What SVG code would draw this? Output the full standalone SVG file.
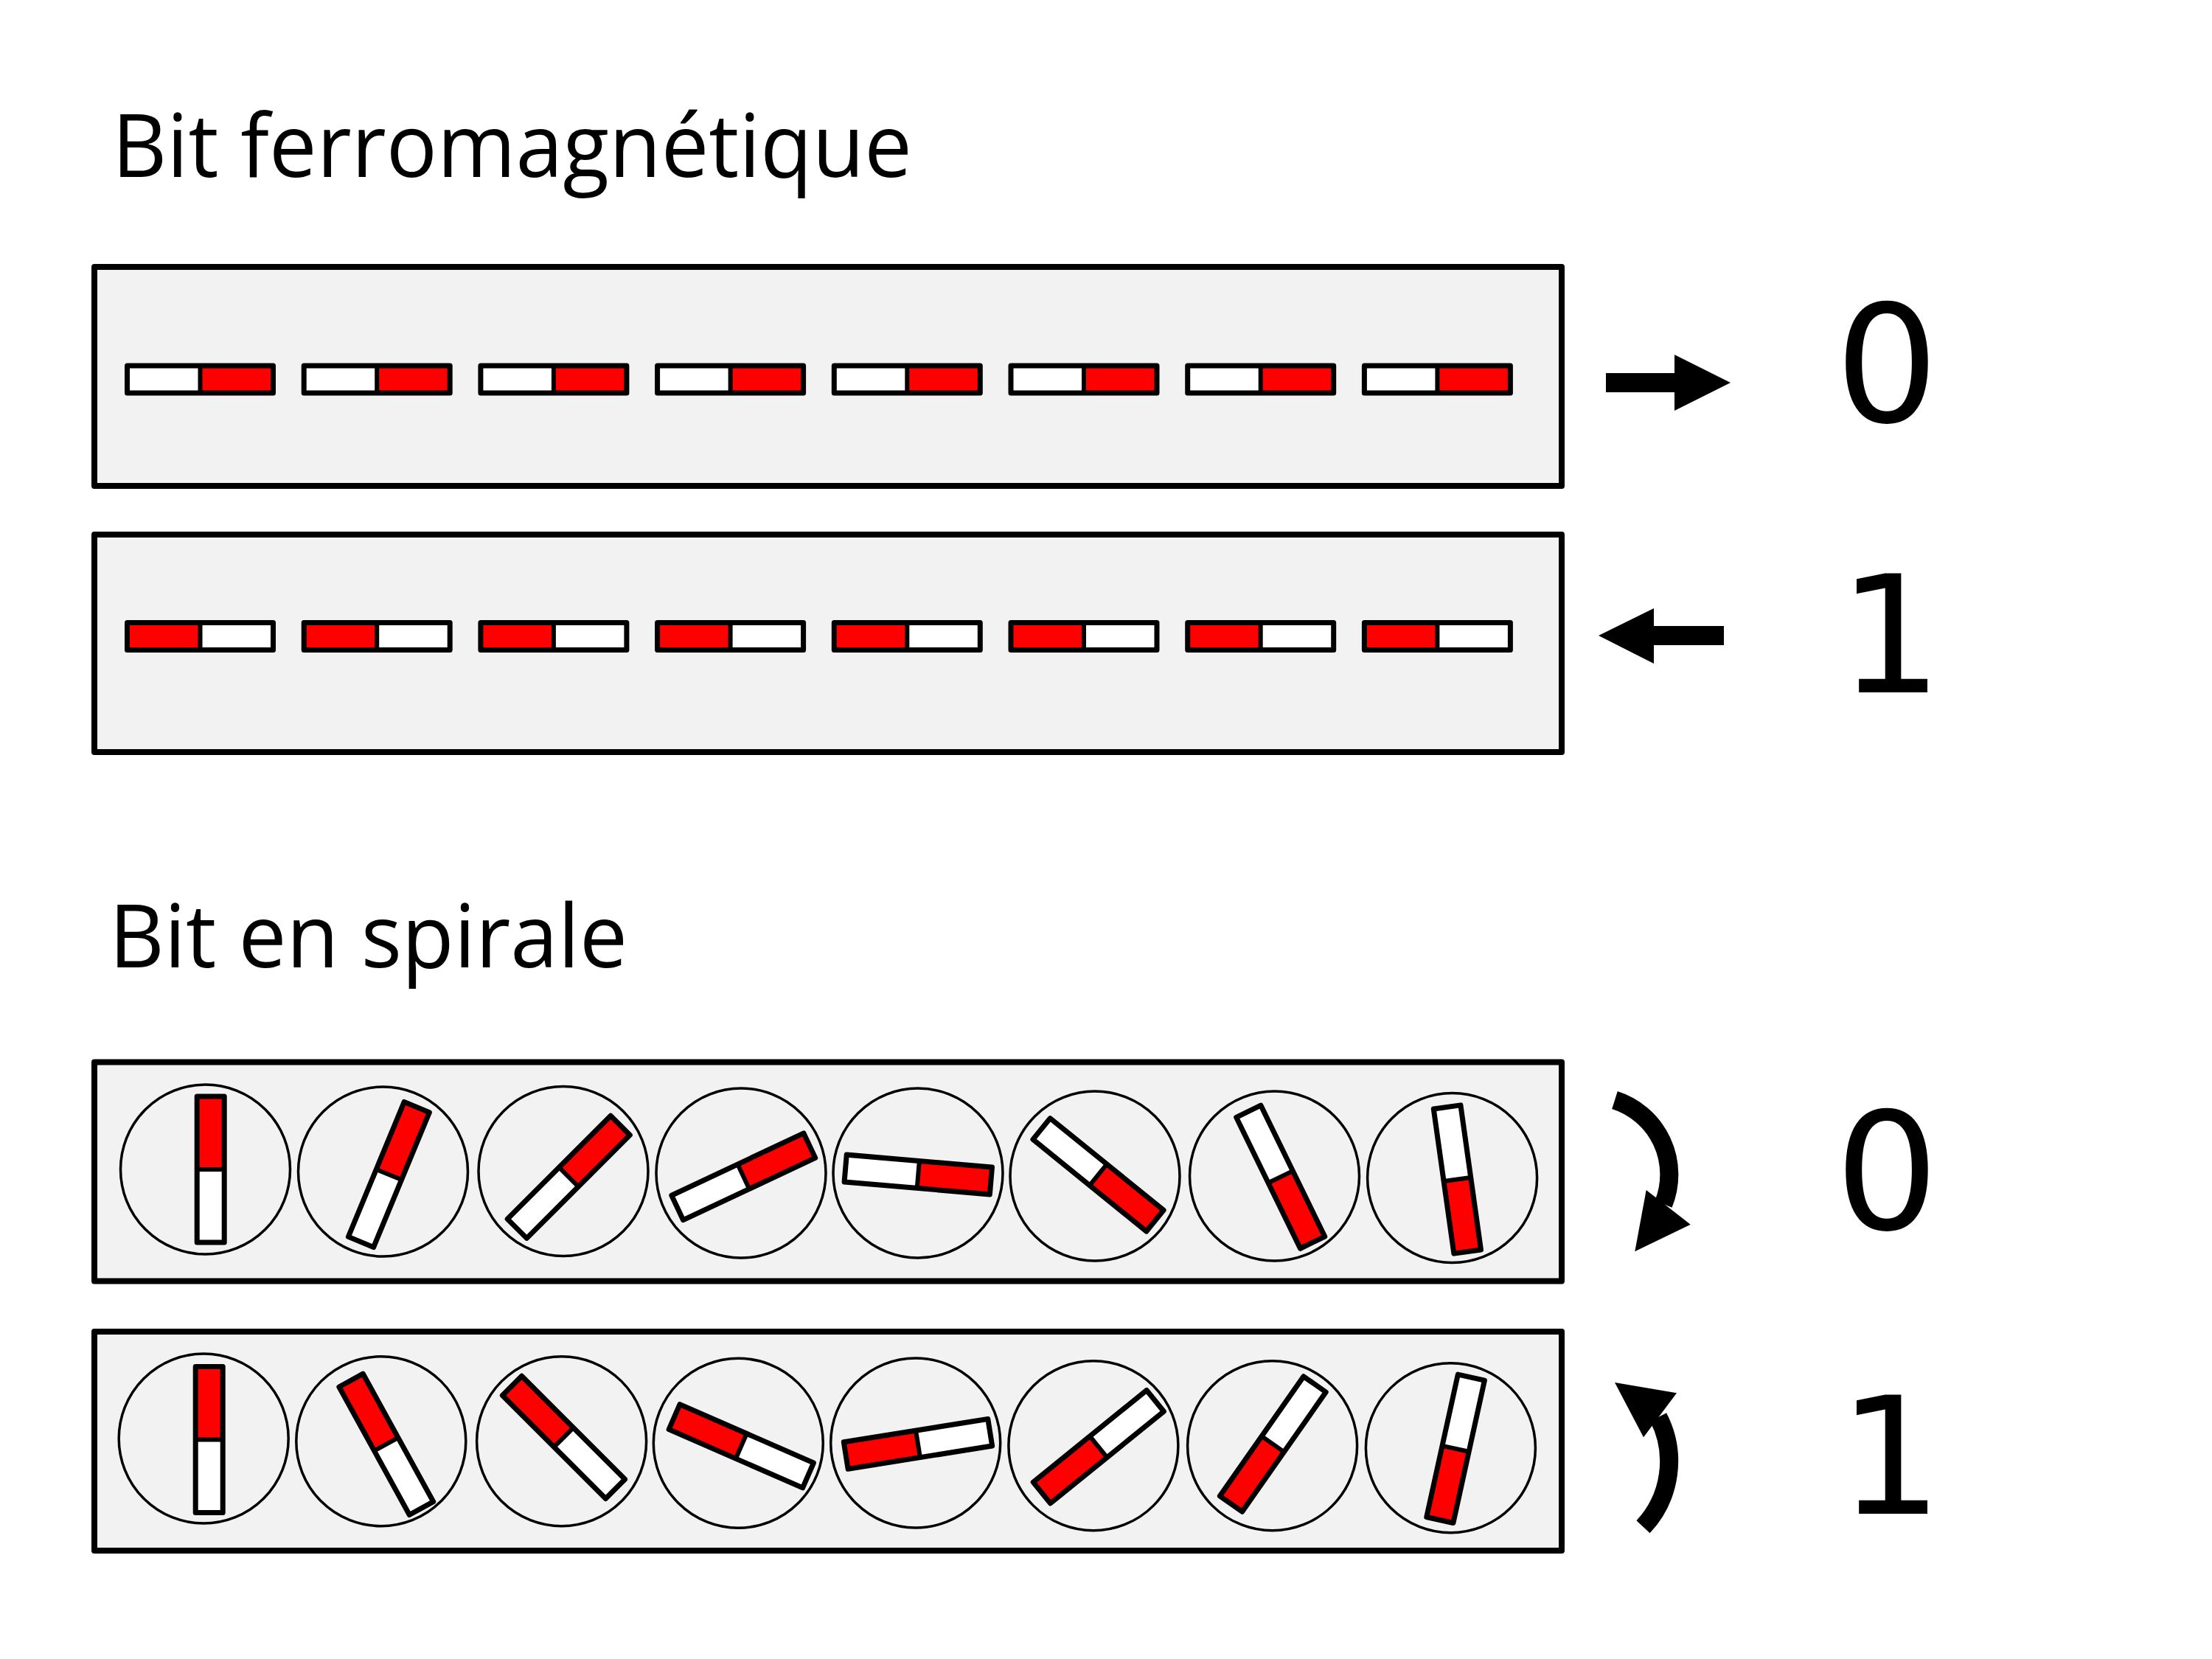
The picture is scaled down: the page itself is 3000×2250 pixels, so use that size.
<svg xmlns="http://www.w3.org/2000/svg" xmlns:xlink="http://www.w3.org/1999/xlink" width="3000" height="2250" viewBox="0 0 3000 2250">
<style>
.title{font-family:"Open Sans","Noto Sans","Liberation Sans",sans-serif;font-size:119px;fill:#000}
.digit{font-family:"DejaVu Sans","Liberation Sans",sans-serif;font-size:221px;fill:#000;text-anchor:middle}
.box{fill:#f2f2f2;stroke:#000;stroke-width:8;stroke-linejoin:round}
.ring{fill:none;stroke:#000;stroke-width:3.5}
.outline{fill:none;stroke:#000;stroke-width:7;stroke-linejoin:round}
.arrowshaft{fill:none;stroke:#000;stroke-width:25;stroke-linecap:butt}
</style>
<defs>
<g id="mag">
<rect x="-18.5" y="-99" width="37" height="99" fill="#ff0000"/>
<rect x="-18.5" y="0" width="37" height="99" fill="#ffffff"/>
<line x1="-18.5" y1="0" x2="18.5" y2="0" stroke="#000" stroke-width="6"/>
<rect class="outline" x="-18.5" y="-99" width="37" height="198"/>
</g>
</defs>
<rect width="3000" height="2250" fill="#ffffff"/>

<text class="title" x="152" y="240" textLength="1085" lengthAdjust="spacingAndGlyphs">Bit ferromagnétique</text>
<text class="title" x="148" y="1312" textLength="703" lengthAdjust="spacingAndGlyphs">Bit en spirale</text>

<g id="ferro0">
<rect class="box" x="128" y="362" width="1990" height="297"/>
<use xlink:href="#mag" transform="translate(271.5,514.5) rotate(90)"/>
<use xlink:href="#mag" transform="translate(511.2,514.5) rotate(90)"/>
<use xlink:href="#mag" transform="translate(750.9,514.5) rotate(90)"/>
<use xlink:href="#mag" transform="translate(990.6,514.5) rotate(90)"/>
<use xlink:href="#mag" transform="translate(1230.3,514.5) rotate(90)"/>
<use xlink:href="#mag" transform="translate(1470,514.5) rotate(90)"/>
<use xlink:href="#mag" transform="translate(1709.7,514.5) rotate(90)"/>
<use xlink:href="#mag" transform="translate(1949.4,514.5) rotate(90)"/>
</g>

<g id="ferro1">
<rect class="box" x="128" y="725" width="1990" height="295"/>
<use xlink:href="#mag" transform="translate(271.5,863) rotate(-90)"/>
<use xlink:href="#mag" transform="translate(511.2,863) rotate(-90)"/>
<use xlink:href="#mag" transform="translate(750.9,863) rotate(-90)"/>
<use xlink:href="#mag" transform="translate(990.6,863) rotate(-90)"/>
<use xlink:href="#mag" transform="translate(1230.3,863) rotate(-90)"/>
<use xlink:href="#mag" transform="translate(1470,863) rotate(-90)"/>
<use xlink:href="#mag" transform="translate(1709.7,863) rotate(-90)"/>
<use xlink:href="#mag" transform="translate(1949.4,863) rotate(-90)"/>
</g>

<g id="spiral0">
<rect class="box" x="128" y="1440.5" width="1990" height="297"/>
<circle class="ring" cx="278.5" cy="1586" r="115"/>
<circle class="ring" cx="519.5" cy="1589" r="115"/>
<circle class="ring" cx="764" cy="1588.5" r="115"/>
<circle class="ring" cx="1005" cy="1591" r="115"/>
<circle class="ring" cx="1245" cy="1591" r="115"/>
<circle class="ring" cx="1485" cy="1595" r="115"/>
<circle class="ring" cx="1728.5" cy="1595" r="115"/>
<circle class="ring" cx="1969.6" cy="1597.5" r="115"/>
<use xlink:href="#mag" transform="translate(285.7,1586) rotate(0)"/>
<use xlink:href="#mag" transform="translate(527.4,1593) rotate(22.5)"/>
<use xlink:href="#mag" transform="translate(771.3,1596.3) rotate(45)"/>
<use xlink:href="#mag" transform="translate(1008.3,1595.8) rotate(64.8)"/>
<use xlink:href="#mag" transform="translate(1245.3,1593) rotate(94.9)"/>
<use xlink:href="#mag" transform="translate(1489.5,1593.3) rotate(129)"/>
<use xlink:href="#mag" transform="translate(1736.7,1596.2) rotate(154)"/>
<use xlink:href="#mag" transform="translate(1976.4,1599.5) rotate(172)"/>
</g>

<g id="spiral1">
<rect class="box" x="128" y="1806" width="1990" height="297"/>
<circle class="ring" cx="276.2" cy="1951" r="115"/>
<circle class="ring" cx="516.8" cy="1954.7" r="115"/>
<circle class="ring" cx="761.6" cy="1954.7" r="115"/>
<circle class="ring" cx="1001.3" cy="1957.2" r="115"/>
<circle class="ring" cx="1241.7" cy="1957" r="115"/>
<circle class="ring" cx="1482.9" cy="1960.8" r="115"/>
<circle class="ring" cx="1725.6" cy="1960.8" r="115"/>
<circle class="ring" cx="1967.4" cy="1963.7" r="115"/>
<use xlink:href="#mag" transform="translate(283.7,1952.5) rotate(0)"/>
<use xlink:href="#mag" transform="translate(523.8,1958.8) rotate(-28.8)"/>
<use xlink:href="#mag" transform="translate(764.5,1949.4) rotate(-45)"/>
<use xlink:href="#mag" transform="translate(1005.3,1961.3) rotate(-66.4)"/>
<use xlink:href="#mag" transform="translate(1245,1958.4) rotate(-99.1)"/>
<use xlink:href="#mag" transform="translate(1489.8,1962.2) rotate(-129)"/>
<use xlink:href="#mag" transform="translate(1726.3,1958.5) rotate(-145)"/>
<use xlink:href="#mag" transform="translate(1974.1,1964.8) rotate(-167.6)"/>
</g>

<g id="labels">
<text class="digit" x="2559" y="572">0</text>
<text class="digit" x="2564" y="939">1</text>
<text class="digit" x="2559" y="1667">0</text>
<text class="digit" x="2564" y="2053">1</text>
</g>

<g id="connectors">
<rect x="2178" y="506" width="94" height="26" fill="#000"/>
<polygon points="2271,481 2347,519 2271,557" fill="#000"/>
<rect x="2242" y="849" width="96" height="26" fill="#000"/>
<polygon points="2168,862 2243,825 2243,900" fill="#000"/>
<path class="arrowshaft" d="M 2190 1492 A 106 106 0 0 1 2256 1633"/>
<polygon points="2232.7,1614 2292.7,1660.7 2217.3,1697.3" fill="#000"/>
<path class="arrowshaft" d="M 2228.5 2070.8 A 130 130 0 0 0 2249 1922"/>
<polygon points="2190,1875 2274,1889.3 2229,1949.3" fill="#000"/>
</g>
</svg>
